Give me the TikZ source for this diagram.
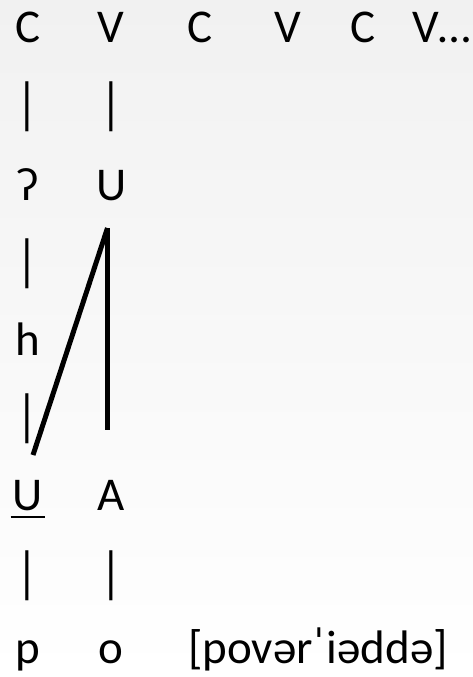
\documentclass[tikz,border=0pt]{standalone}
\usepackage{fontspec}
\setmainfont{Carlito}
\usepackage{tikz}
\usetikzlibrary{positioning}
\definecolor{slidetop}{HTML}{F1F1F1}
\newcommand{\tierbar}{\scalebox{1}[1.2]{|}}

\begin{document}
\begin{tikzpicture}[
    x=1pt,y=-1pt,
    seg/.style={font=\fontsize{47}{47}\selectfont,inner sep=0pt,anchor=base},
    bar/.style={font=\fontsize{47}{47}\selectfont,inner sep=0pt},
    assoc/.style={line width=5pt,draw=black}
]
\shade[top color=slidetop,bottom color=white] (0,0) rectangle (473,677);
\useasboundingbox (0,0) rectangle (473,677);
\node[seg] (c1) at (28,43) {C};
\node[seg] (v1) at (111,43) {V};
\node[seg] (c2) at (200,43) {C};
\node[seg] (v2) at (288,43) {V};
\node[seg] (c3) at (363,43) {C};
\node[seg,anchor=base west] (v3) at (412,43) {V…};
\node[bar] (b1) at (27.5,107) {\tierbar};
\node[bar] (b2) at (111,107) {\tierbar};
\node[seg] (glot) at (28,200) {ʔ};
\node[seg] (uhi) at (111.5,200) {U};
\node[bar] (b3) at (27.5,264) {\tierbar};
\node[seg] (h) at (28,355) {h};
\node[bar] (b4) at (27.5,419) {\tierbar};
\node[seg] (ulo) at (28,510) {U};
\node[seg] (a) at (111,510) {A};
\draw[line width=2.5pt] ([xshift=-2pt,yshift=-7pt]ulo.base west) -- ([xshift=2pt,yshift=-7pt]ulo.base east);
\node[bar] (b5) at (27.5,576) {\tierbar};
\node[bar] (b6) at (111,576) {\tierbar};
\node[seg] (p) at (28,663) {p};
\node[seg] (o) at (111,663) {o};
\node[seg,anchor=base west] (ipa) at (188,663) {[povərˈiəddə]};
\coordinate (join) at (107.5,228);
\coordinate (vend) at (107.5,430);
\coordinate (dend) at (33,455);
\draw[assoc] (join) -- (vend);
\draw[assoc] (join) -- (dend);
\end{tikzpicture}
\end{document}
